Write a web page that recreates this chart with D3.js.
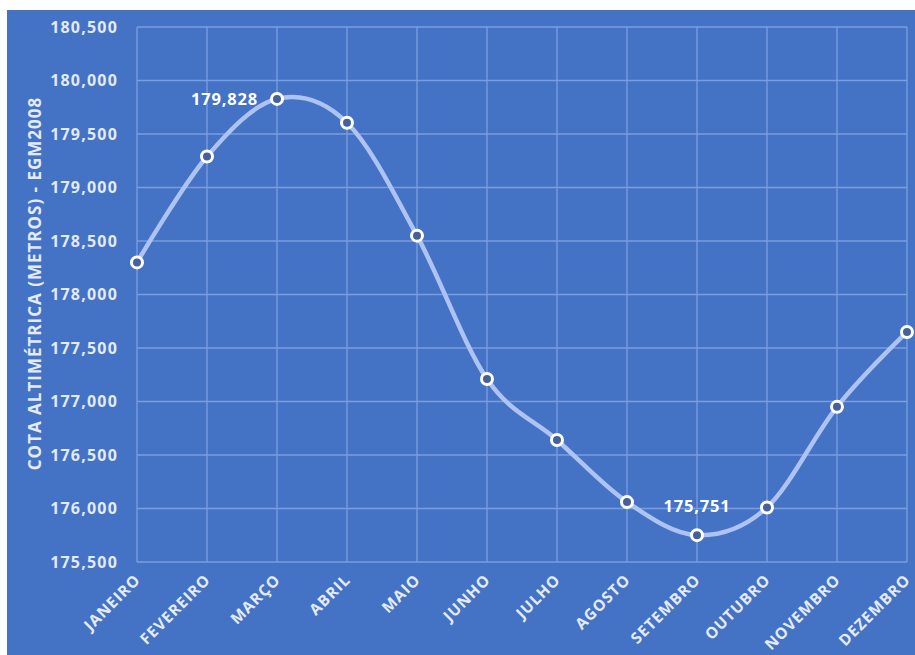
<!DOCTYPE html>
<html>
<head>
<meta charset="utf-8">
<script src="https://cdn.jsdelivr.net/npm/d3@7"></script>
<style>
  body { margin: 0; background: #fff; overflow: hidden; }
  text { font-family: "Open Sans", sans-serif; font-weight: 700; }
</style>
</head>
<body>
<div id="chart"></div>
<script>
// data
let months = ["JANEIRO", "FEVEREIRO", "MARÇO", "ABRIL", "MAIO", "JUNHO",
              "JULHO", "AGOSTO", "SETEMBRO", "OUTUBRO", "NOVEMBRO", "DEZEMBRO"]
let cota = [178300, 179290, 179828, 179605, 178550, 177210,
            176640, 176060, 175751, 176010, 176950, 177650]
let yTicks = [175500, 176000, 176500, 177000, 177500, 178000, 178500, 179000, 179500, 180000, 180500]
let labelled = {2: "left", 8: "top"}   // index -> where the value label sits

let width = 915,
    height = 655,
    margin = {top: 27, right: 8, bottom: 93, left: 137},
    svg = d3.select("#chart").append("svg")
        .attr("width", width)
        .attr("height", height)

// BACKGROUND
svg.append("rect").attr("width", width).attr("height", height).attr("fill", "#fff")
svg.append("rect")
    .attr("x", 7).attr("y", 10)
    .attr("width", width - 7).attr("height", height - 10)
    .attr("fill", "#4472c4")

// SCALES
let x = d3.scalePoint()
    .domain(months)
    .range([margin.left, width - margin.right])
let y = d3.scaleLinear()
    .domain([175500, 180500])
    .range([height - margin.bottom, margin.top])

let fmt = d3.format(",")

//GRID
let grid = svg.append("g").attr("stroke", "#7b9ee0").attr("stroke-width", 1.3)
grid.selectAll(".h").data(yTicks).enter().append("line")
    .attr("x1", margin.left).attr("x2", width - margin.right)
    .attr("y1", d => y(d)).attr("y2", d => y(d))
grid.selectAll(".v").data(months).enter().append("line")
    .attr("x1", d => x(d)).attr("x2", d => x(d))
    .attr("y1", y(180500)).attr("y2", y(175500))

//Y AXIS
let yAxis = svg.append("g")
    .attr("transform", "translate(" + (margin.left - 19) + ",0)")
    .call(d3.axisLeft(y).tickValues(yTicks).tickFormat(fmt).tickSize(0).tickPadding(0))
yAxis.select(".domain").remove()
yAxis.selectAll("text")
    .attr("fill", "#e3eaf8")
    .attr("font-size", 16)
    .attr("letter-spacing", 1.2)
    .attr("font-family", "Open Sans")

svg.append("text")
    .attr("transform", "translate(41," + ((y(175500) + y(180500)) / 2 - 11) + ") rotate(-90)")
    .attr("text-anchor", "middle")
    .attr("fill", "#e3eaf8")
    .attr("font-size", 17)
    .attr("letter-spacing", 1)
    .text("COTA ALTIMÉTRICA (METROS) - EGM2008")

//X AXIS
let xAxis = svg.append("g")
    .attr("transform", "translate(0," + y(175500) + ")")
    .call(d3.axisBottom(x).tickSize(0).tickPadding(0))
xAxis.select(".domain").remove()
xAxis.selectAll("text")
    .attr("fill", "#e3eaf8")
    .attr("font-size", 15.5)
    .attr("font-family", "Open Sans")
    .attr("letter-spacing", 1)
    .attr("text-anchor", "end")
    .attr("dy", "0.35em")
    .attr("transform", "translate(0,15) rotate(-45)")

//LINE
let line = d3.line()
    .x((d, i) => x(months[i]))
    .y(d => y(d))
    .curve(d3.curveCardinal.tension(0))
svg.append("path")
    .datum(cota)
    .attr("fill", "none")
    .attr("stroke", "#aec3f1")
    .attr("stroke-width", 4.5)
    .attr("stroke-linecap", "round")
    .attr("d", line)

//MARKERS
svg.append("g").selectAll("circle")
    .data(cota)
    .enter().append("circle")
    .attr("cx", (d, i) => x(months[i]))
    .attr("cy", d => y(d))
    .attr("r", 5.5)
    .attr("fill", "#46609a")
    .attr("stroke", "#fff")
    .attr("stroke-width", 3)

//VALUE LABELS
Object.keys(labelled).forEach(k => {
    let i = +k, pos = labelled[k]
    let t = svg.append("text")
        .attr("fill", "#fff")
        .attr("font-size", 16.5)
        .attr("letter-spacing", 0.8)
        .attr("dy", "0.35em")
        .text(fmt(cota[i]))
    if (pos === "left") {
        t.attr("x", x(months[i]) - 19).attr("y", y(cota[i])).attr("text-anchor", "end")
    } else {
        t.attr("x", x(months[i])).attr("y", y(cota[i]) - 29).attr("text-anchor", "middle")
    }
})
</script>
</body>
</html>
